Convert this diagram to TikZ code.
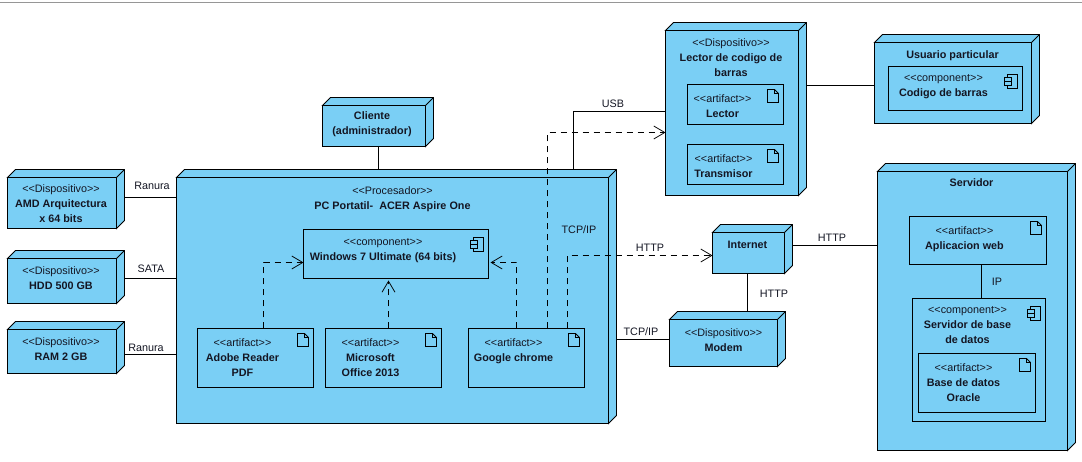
\documentclass[tikz,border=0pt]{standalone}
\usepackage{fontspec}
\setmainfont{Liberation Sans}
\usetikzlibrary{arrows.meta}
\definecolor{nodefill}{RGB}{122,207,245}
\definecolor{inktext}{RGB}{20,22,35}
\definecolor{edgegray}{RGB}{150,150,150}
\newcommand\ster[1]{<{}<#1>{}>}
\newcommand\nm[1]{\textbf{#1}}
% style, name, x0,y0,x1,y1, first-line centre offset, right reserve, text
\newcommand\lbox[9]{%
  \pgfmathsetmacro\bw{#5-#3}%
  \pgfmathsetmacro\bh{#6-#4}%
  \pgfmathsetmacro\bcx{(#3+#5)/2}%
  \pgfmathsetmacro\bcy{(#4+#6)/2}%
  \pgfmathsetmacro\bpd{#7-6.4}%
  \node[#1,minimum width=\bw pt,minimum height=\bh pt] (#2) at (\bcx,\bcy)
    {\parbox[c][\bh pt][t]{\bw pt}{\fontsize{10.8}{15}\selectfont\vskip\bpd pt\relax
      \leftskip=0pt plus 1fil\rightskip=#8pt plus 1fil\parfillskip=0pt\parindent=0pt
      \everypar{\strut}#9\par}};%
}
\newcommand\cube[1]{%
  \draw[cubeline] (#1.north west) -- ++(8,-8) -- ([shift={(8pt,8pt)}]#1.north east)
     -- ([shift={(8pt,8pt)}]#1.south east) -- (#1.south east) -- (#1.north east) -- cycle;
  \draw[cubeline] (#1.north east) -- ++(8,-8);
  \coordinate (#1bk) at ([xshift=8pt]#1.east);
  \coordinate (#1tp) at ([yshift=8pt]#1.north);
}
\newcommand\docicon[1]{%
  \draw[iconline] ([shift={(-16pt,-5pt)}]#1.north east) -- ++(7,0) -- ++(4,4) -- ++(0,9) -- ++(-11,0) -- cycle
     ([shift={(-9pt,-5pt)}]#1.north east) -- ++(0,4) -- ++(4,0);
}
\newcommand\compicon[1]{%
  \draw[iconline] ([shift={(-15pt,-8pt)}]#1.north east) rectangle ++(10,14);
  \draw[iconline,fill=nodefill] ([shift={(-18pt,-11pt)}]#1.north east) rectangle ++(7,4);
  \draw[iconline,fill=nodefill] ([shift={(-18pt,-15pt)}]#1.north east) rectangle ++(7,4);
}
\tikzset{
  x=1pt,y=-1pt,
  plainbox/.style={draw=black,fill=nodefill,line width=0.95pt,inner sep=0pt,outer sep=0pt,text=inktext},
  cubeline/.style={draw=black,fill=nodefill,line width=0.95pt,line join=miter},
  iconline/.style={draw=black,line width=0.85pt,line join=miter},
  conn/.style={draw=black,line width=0.9pt},
  dep/.style={draw=black,line width=0.85pt,dash pattern=on 6pt off 5pt,-{Straight Barb[length=11pt,width=13pt,line width=0.75pt]}},
  lbl/.style={inner sep=0pt,text=inktext,font=\fontsize{10.8}{13}\selectfont},
}
\begin{document}
\begin{tikzpicture}
\useasboundingbox (-0.5,-0.5) rectangle (1081.5,461.5);
\coordinate (topl) at (-0.5,2);
\coordinate (topr) at (1081.5,2);
\draw[edgegray,line width=1.4pt] (topl) -- (topr);

% left devices
\lbox{plainbox}{amd}{7}{177}{116}{228}{11}{2}{\ster{Dispositivo}\par\nm{AMD Arquitectura}\par\nm{x 64 bits}}
\cube{amd}
\lbox{plainbox}{hdd}{7}{258}{116}{303}{12}{2}{\ster{Dispositivo}\par\nm{HDD 500 GB}}
\cube{hdd}
\lbox{plainbox}{ram}{7}{329}{116}{373}{12}{2}{\ster{Dispositivo}\par\nm{RAM 2 GB}}
\cube{ram}

% client
\lbox{plainbox}{cli}{322}{105}{425}{146}{10}{4}{\nm{Cliente}\par\nm{(administrador)}}
\cube{cli}

% processor
\lbox{plainbox}{proc}{176}{177}{608}{423}{13}{0}{\ster{Procesador}\par\nm{PC Portatil-\ \ ACER Aspire One}}
\cube{proc}
\lbox{plainbox}{win}{303}{229}{488}{278}{12}{26}{\ster{component}\par\nm{Windows 7 Ultimate (64 bits)}}
\compicon{win}
\lbox{plainbox}{adobe}{197}{328}{313}{387}{14}{26}{\ster{artifact}\par\nm{Adobe Reader}\par\nm{PDF}}
\docicon{adobe}
\lbox{plainbox}{office}{325}{328}{441}{387}{14}{26}{\ster{artifact}\par\nm{Microsoft}\par\nm{Office 2013}}
\docicon{office}
\lbox{plainbox}{chrome}{468}{328}{584}{387}{14}{26}{\ster{artifact}\par\nm{Google chrome}}
\docicon{chrome}

% barcode reader
\lbox{plainbox}{reader}{665}{30}{798}{195}{12}{2}{\ster{Dispositivo}\par\nm{Lector de codigo de}\par\nm{barras}}
\cube{reader}
\lbox{plainbox}{lector}{687}{84}{783}{124}{14}{26}{\ster{artifact}\par\nm{Lector}}
\docicon{lector}
\lbox{plainbox}{trans}{687}{144}{783}{184}{14}{24}{\ster{artifact}\par\nm{Transmisor}}
\docicon{trans}

% private user
\lbox{plainbox}{user}{874}{42}{1031}{123}{12}{1}{\nm{Usuario particular}}
\cube{user}
\lbox{plainbox}{code}{888}{66}{1022}{110}{11}{24}{\ster{component}\par\nm{Codigo de barras}}
\compicon{code}

% server
\lbox{plainbox}{srv}{877}{171}{1067}{450}{11}{2}{\nm{Servidor}}
\cube{srv}
\lbox{plainbox}{web}{909}{216}{1046}{264}{14}{27}{\ster{artifact}\par\nm{Aplicacion web}}
\docicon{web}
\lbox{plainbox}{dbs}{912}{298}{1045}{421}{11}{23}{\ster{component}\par\nm{Servidor de base}\par\nm{de datos}}
\compicon{dbs}
\lbox{plainbox}{ora}{918}{353}{1035}{412}{14}{27}{\ster{artifact}\par\nm{Base de datos}\par\nm{Oracle}}
\docicon{ora}

% network
\lbox{plainbox}{net}{712}{232}{784}{273}{12}{2}{\nm{Internet}}
\cube{net}
\lbox{plainbox}{modem}{669}{319}{777}{366}{13}{0}{\ster{Dispositivo}\par\nm{Modem}}
\cube{modem}

% solid connectors
\draw[conn] (amdbk |- 0,197) -- (proc.west |- 0,197);
\draw[conn] (hddbk |- 0,278) -- (proc.west |- 0,278);
\draw[conn] (rambk |- 0,354) -- (proc.west |- 0,354);
\draw[conn] (378,0 |- cli.south) -- (378,0 |- proctp);
\draw[conn] (573,0 |- proctp) -- (573,111) -- (reader.west |- 0,111);
\draw[conn] (readerbk |- 0,85) -- (user.west |- 0,85);
\draw[conn] (procbk |- 0,339) -- (modem.west |- 0,339);
\draw[conn] (747,0 |- net.south) -- (747,0 |- modemtp);
\draw[conn] (netbk |- 0,245) -- (srv.west |- 0,245);
\draw[conn] (981,0 |- web.south) -- (981,0 |- dbs.north);

% dependencies
\draw[dep] (263,0 |- adobe.north) -- (263,262) -- (win.west |- 0,262);
\draw[dep] (388,0 |- office.north) -- (388,280) ;
\draw[dep] (516,0 |- chrome.north) -- (516,262) -- (490,262);
\draw[dep] (547,0 |- chrome.north) -- (547,132) -- (reader.west |- 0,132);
\draw[dep] (567,0 |- chrome.north) -- (567,255) -- (net.west |- 0,255);

% labels
\node[lbl] (l1) at (151.5,185.5) {Ranura};
\node[lbl] (l2) at (150.5,268.5) {SATA};
\node[lbl] (l3) at (145.5,347.5) {Ranura};
\node[lbl] (l4) at (612.5,103.5) {USB};
\node[lbl] (l5) at (578.5,229.5) {TCP/IP};
\node[lbl] (l6) at (649.5,247.5) {HTTP};
\node[lbl] (l7) at (831.5,237.5) {HTTP};
\node[lbl] (l8) at (773.5,293.5) {HTTP};
\node[lbl] (l9) at (640.5,331.5) {TCP/IP};
\node[lbl] (l10) at (996.5,281.5) {IP};
\end{tikzpicture}
\end{document}
